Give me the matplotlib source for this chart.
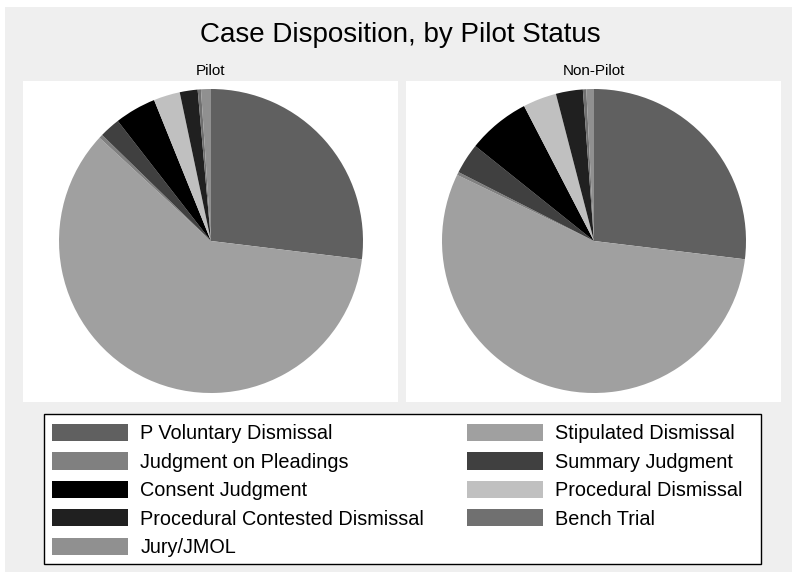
import matplotlib
matplotlib.use("Agg")
import matplotlib.pyplot as plt
from matplotlib.patches import Rectangle

plt.rcParams['font.family'] = ['Liberation Sans', 'DejaVu Sans']

categories = ["P Voluntary Dismissal", "Stipulated Dismissal", "Judgment on Pleadings",
              "Summary Judgment", "Consent Judgment", "Procedural Dismissal",
              "Procedural Contested Dismissal", "Bench Trial", "Jury/JMOL"]
pilot_values = [26.9, 59.9, 0.4, 2.2, 4.4, 2.8, 1.9, 0.35, 1.05]
nonpilot_values = [26.9, 55.2, 0.33, 3.25, 6.65, 3.57, 2.86, 0.36, 0.81]
panel_titles = ["Pilot", "Non-Pilot"]
title = "Case Disposition, by Pilot Status"
colors = ["#606060", "#a0a0a0", "#808080", "#404040", "#000000",
          "#c0c0c0", "#202020", "#707070", "#909090"]

W, H = 792, 576
fig = plt.figure(figsize=(W / 100, H / 100), dpi=100)
fig.patch.set_facecolor("white")

def fx(x):
    return x / W

def fy(y):
    return 1 - y / H

# gray graph region
fig.patches.append(Rectangle((fx(5), fy(572)), fx(787), 565 / H, transform=fig.transFigure,
                             facecolor="#efefef", edgecolor="none", zorder=-5))
# legend box
fig.patches.append(Rectangle((fx(43.5), fy(563.5)), (761 - 43.5) / W, (563.5 - 414) / H,
                             transform=fig.transFigure, facecolor="white",
                             edgecolor="black", linewidth=1.0, zorder=-1))

fig.text(fx(400), fy(35), title, ha="center", va="center", fontsize=20)

panels = [(23, 81, 398, 402), (406, 81, 781, 402)]
R = 152
pie_cy = 241
wedges_ref = None
for (x0, y0, x1, y1), vals, ptitle in zip(panels, [pilot_values, nonpilot_values], panel_titles):
    ax = fig.add_axes([fx(x0), fy(y1), (x1 - x0) / W, (y1 - y0) / H])
    ax.set_facecolor("white")
    cx = (x0 + x1) / 2
    wedges, _ = ax.pie(vals, colors=colors, startangle=90, counterclock=False,
                       radius=R, center=(cx + 0.5, -pie_cy), frame=True,
                       wedgeprops=dict(linewidth=0))
    ax.set_xlim(x0, x1)
    ax.set_ylim(-y1, -y0)
    ax.set_aspect("auto")
    ax.set_xticks([])
    ax.set_yticks([])
    for s in ax.spines.values():
        s.set_visible(False)
    fig.text(fx(cx), fy(71), ptitle, ha="center", va="center", fontsize=11)
    if wedges_ref is None:
        wedges_ref = wedges

# legend in row-major order with 2 columns
order = [0, 2, 4, 6, 8, 1, 3, 5, 7]
handles = [wedges_ref[i] for i in order]
labels = [categories[i] for i in order]
leg = fig.legend(handles, labels, ncol=2, loc="upper left",
                 bbox_to_anchor=(fx(52), fy(424)),
                 fontsize=14.3, frameon=False,
                 handlelength=3.85, handleheight=0.95, handletextpad=0.6,
                 labelspacing=0.455, columnspacing=2.15, borderpad=0, borderaxespad=0)

fig.savefig("out.png", dpi=100, facecolor="white")
